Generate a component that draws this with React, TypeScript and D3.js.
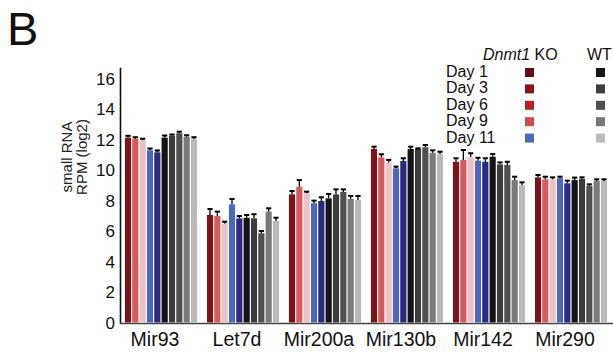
// small RNA expression bar chart, Dnmt1 KO vs WT
import React from 'react';
import * as d3 from 'd3';

const categories = ['Mir93', 'Let7d', 'Mir200a', 'Mir130b', 'Mir142', 'Mir290'];
const days = ['Day 1', 'Day 3', 'Day 6', 'Day 9', 'Day 11'];
const yTicks = [0, 2, 4, 6, 8, 10, 12, 14, 16];

// KO Day1..Day11, then WT Day1..Day11, one row per category
const koValues = [
  [12.12, 12.05, 11.95, 11.29, 11.16],
  [7.05, 6.98, 6.5, 7.75, 6.83],
  [8.4, 8.9, 8.47, 7.82, 7.97],
  [11.38, 10.83, 10.5, 10.11, 10.59],
  [10.54, 10.66, 10.87, 10.61, 10.54],
  [9.52, 9.39, 9.39, 9.46, 9.13],
];
const wtValues = [
  [12.12, 12.25, 12.41, 12.18, 12.03],
  [6.87, 6.83, 5.85, 7.27, 6.66],
  [8.14, 8.4, 8.56, 8.1, 8.03],
  [11.38, 11.38, 11.49, 11.13, 11.03],
  [10.87, 10.37, 10.33, 9.34, 9.02],
  [9.34, 9.41, 8.95, 9.28, 9.28],
];
const koErrors = [
  [0.12, 0.1, 0.1, 0.12, 0.12],
  [0.39, 0.29, 0.11, 0.35, 0.15],
  [0.22, 0.44, 0.11, 0.17, 0.24],
  [0.15, 0.2, 0.16, 0.11, 0.18],
  [0.23, 0.65, 0.23, 0.19, 0.23],
  [0.15, 0.17, 0.13, 0.1, 0.17],
];
const wtErrors = [
  [0.14, 0.08, 0.1, 0.1, 0.12],
  [0.18, 0.27, 0.15, 0.22, 0.21],
  [0.29, 0.33, 0.17, 0.2, 0.27],
  [0.15, 0.04, 0.15, 0.16, 0.17],
  [0.18, 0.13, 0.21, 0.22, 0.17],
  [0.16, 0.11, 0.11, 0.11, 0.11],
];

const barColors = ['#7e1219', '#d15b5d', '#e6c3cb', '#4b68bb', '#2b2a7b',
  '#141414', '#3c3c3c', '#505050', '#7a7a7a', '#b9b9b9'];
const koLegend = ['#5e1012', '#8a151a', '#b71e25', '#cb4d4e', '#4b68bb'];
const wtLegend = ['#141414', '#3d3d3d', '#4f4f4f', '#777777', '#bbbbbb'];

const W = 613;
const H = 352;
const font = 'Liberation Sans, Arial, sans-serif';

export default function App() {
  const x = d3.scaleBand().domain(categories).range([120, 612])
    .paddingInner(0.12).paddingOuter(0.06);
  const inner = d3.scaleBand().domain(d3.range(10).map(String))
    .range([0, x.bandwidth()]).paddingInner(0.16).paddingOuter(0);
  const y = d3.scaleLinear().domain([0, 16]).range([322.5, 78.5]);

  const bars = categories.flatMap((c, ci) =>
    [...koValues[ci], ...wtValues[ci]].map((v, i) => ({
      c, i, v, e: [...koErrors[ci], ...wtErrors[ci]][i],
    })));

  const bw = inner.bandwidth();

  return (
    <svg width={W} height={H} style={{ position: 'absolute', left: 0, top: 0, background: '#fff' }}
      fontFamily={font}>
      <text x={7} y={45} fontSize={47} fill="#111">B</text>

      {/* y axis */}
      <line x1={120.5} x2={120.5} y1={y(16.7)} y2={324} stroke="#111" strokeWidth={1.6} />
      <line x1={120} x2={W} y1={323.5} y2={323.5} stroke="#444" strokeWidth={1.6} />
      {yTicks.map(t => (
        <text key={t} x={115} y={y(t) + 6} fontSize={17} textAnchor="end" fill="#111">{t}</text>
      ))}
      <g transform={`translate(72, 157) rotate(-90)`}>
        <text x={0} y={0} fontSize={15} textAnchor="middle" fill="#222">small RNA</text>
        <text x={0} y={15} fontSize={15} textAnchor="middle" fill="#222">RPM (log2)</text>
      </g>

      {bars.map(b => {
        const bx = x(b.c)! + inner(String(b.i))!;
        return (
          <g key={`${b.c}-${b.i}`}>
            <rect x={bx} y={y(b.v)} width={bw} height={y(0) - y(b.v)} fill={barColors[b.i]} />
            <line x1={bx + bw / 2} x2={bx + bw / 2} y1={y(b.v)} y2={y(b.v + b.e)} stroke="#000" strokeWidth={1.3} />
            <line x1={bx + 0.5} x2={bx + bw - 0.5} y1={y(b.v + b.e)} y2={y(b.v + b.e)} stroke="#000" strokeWidth={2} />
          </g>
        );
      })}

      {categories.map(c => (
        <text key={c} x={x(c)! + x.bandwidth() / 2 - 6} y={346} fontSize={19.5} textAnchor="middle" fill="#111">{c}</text>
      ))}

      {/* legend */}
      <text x={483} y={60} fontSize={16} fill="#111">
        <tspan fontStyle="italic">Dnmt1</tspan> KO
      </text>
      <text x={587} y={60} fontSize={16} fill="#111">WT</text>
      {days.map((d, i) => (
        <g key={d}>
          <text x={446} y={77 + i * 16.4} fontSize={16} fill="#111">{d}</text>
          <rect x={525} y={68 + i * 16.4} width={9} height={9} fill={koLegend[i]} />
          <rect x={596} y={68 + i * 16.4} width={9} height={9} fill={wtLegend[i]} />
        </g>
      ))}
    </svg>
  );
}
